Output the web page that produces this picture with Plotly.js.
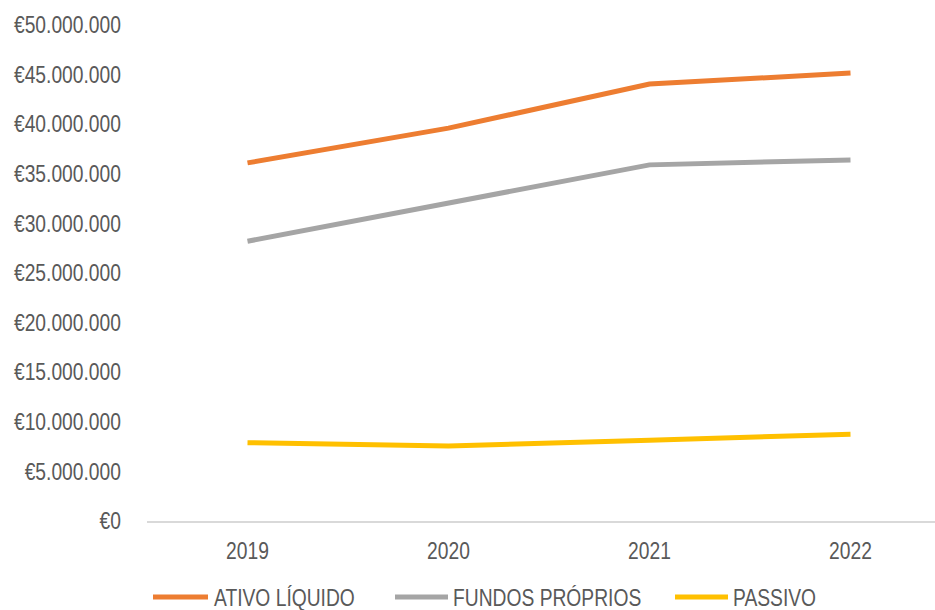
<!DOCTYPE html>
<html>
<head>
<meta charset="utf-8">
<script src="https://cdn.plot.ly/plotly-3.0.1.min.js"></script>
<style>
html,body{margin:0;padding:0;width:935px;height:610px;overflow:hidden;background:#fff;}
#chart{width:935px;height:610px;}
</style>
</head>
<body>
<div id="chart"></div>
<script>
// ---- data ----
var years = ["2019", "2020", "2021", "2022"];
var seriesNames = ["ATIVO LÍQUIDO", "FUNDOS PRÓPRIOS", "PASSIVO"];
var ativoLiquido = [36100000, 39600000, 44050000, 45150000];
var fundosProprios = [28200000, 32050000, 35900000, 36400000];
var passivo = [7900000, 7550000, 8150000, 8750000];
var yTickValues = [0, 5000000, 10000000, 15000000, 20000000, 25000000, 30000000, 35000000, 40000000, 45000000, 50000000];
var yTickLabels = ["€0", "€5.000.000", "€10.000.000", "€15.000.000", "€20.000.000", "€25.000.000",
                   "€30.000.000", "€35.000.000", "€40.000.000", "€45.000.000", "€50.000.000"];

// ---- style ----
var colors = ["#ED7D31", "#A5A5A5", "#FFC000"];
var FONT = "'Liberation Sans', Arial, sans-serif";
var FS = 23.5;
var NARROW = 0.82; // Arial Narrow look: horizontal condensing of the sans face
var textColor = "#595959";
var W = 935, H = 610;
var ML = 147, MT = 25, MR = 0, MB = 89;
var plotW = W - ML - MR, plotH = H - MT - MB;
function px2x(px){ return (px - ML) / plotW; }
function px2y(py){ return (H - MB - py) / plotH; }

var allSeries = [ativoLiquido, fundosProprios, passivo];
var traces = allSeries.map(function(vals, i){
  return {
    type: "scatter", mode: "lines",
    x: years, y: vals, name: seriesNames[i],
    line: {color: colors[i], width: 5},
    showlegend: false,
    cliponaxis: false
  };
});

// custom legend (line sample + text), positioned in pixels
var legendItems = [
  {x0: 153, x1: 208, tx: 211.5},
  {x0: 395, x1: 448, tx: 450.5},
  {x0: 675, x1: 728, tx: 730.5}
];
var legendLineY = 597;
var legendTextY = 597.5;
var shapes = [], annotations = [];
legendItems.forEach(function(it, i){
  shapes.push({type: "line", xref: "paper", yref: "paper",
    x0: px2x(it.x0), x1: px2x(it.x1), y0: px2y(legendLineY), y1: px2y(legendLineY),
    line: {color: colors[i], width: 5}});
  annotations.push({xref: "paper", yref: "paper", x: px2x(it.tx), y: px2y(legendTextY),
    xanchor: "left", yanchor: "middle", align: "left", showarrow: false, text: seriesNames[i],
    font: {family: FONT, size: FS, color: textColor}});
});

var layout = {
  width: W, height: H,
  margin: {l: ML, r: MR, t: MT, b: MB, pad: 0},
  paper_bgcolor: "#ffffff", plot_bgcolor: "#ffffff",
  font: {family: FONT, size: FS, color: textColor},
  showlegend: false,
  xaxis: {
    type: "category", range: [-0.5, -0.5 + plotW / 201],
    showgrid: false, zeroline: false,
    showline: true, linecolor: "#d9d9d9", linewidth: 2,
    ticks: "", ticklabelstandoff: 8,
    tickfont: {family: FONT, size: FS, color: textColor}
  },
  yaxis: {
    range: [0, 50000000], tickmode: "array", tickvals: yTickValues, ticktext: yTickLabels,
    showgrid: false, zeroline: false, showline: false,
    ticks: "", ticklabelstandoff: 25,
    tickfont: {family: FONT, size: FS, color: textColor}
  },
  shapes: shapes,
  annotations: annotations
};

function condense(s){
  var texts = document.querySelectorAll("#chart .xtick text, #chart .ytick text, #chart .annotation-text");
  texts.forEach(function(t){
    var x = parseFloat(t.getAttribute("x")) || 0;
    var tr = t.getAttribute("transform") || "";
    t.setAttribute("transform", tr + " translate(" + x + ",0) scale(" + s + ",1) translate(" + (-x) + ",0)");
  });
}

Plotly.newPlot("chart", traces, layout, {displayModeBar: false, staticPlot: true})
  .then(function(){ condense(NARROW); });
</script>
</body>
</html>
